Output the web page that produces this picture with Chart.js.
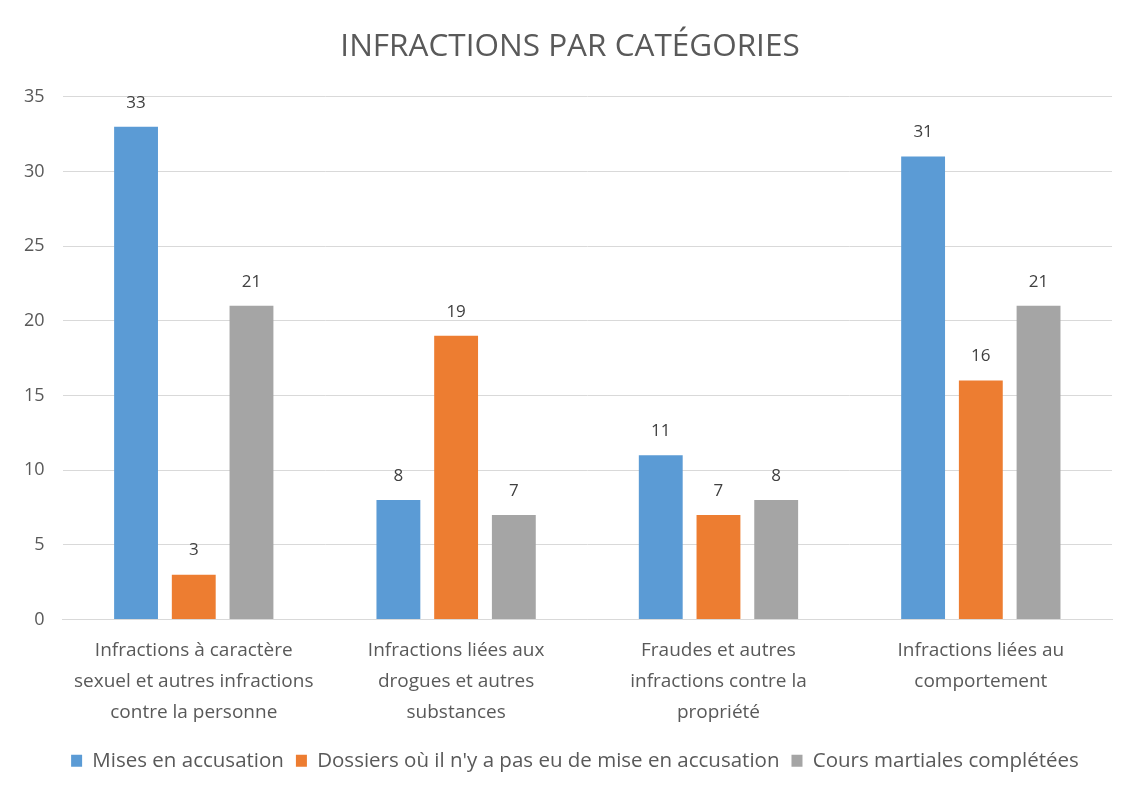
<!DOCTYPE html>
<html><head><meta charset="utf-8">
<script src="https://cdn.jsdelivr.net/npm/chart.js@4"></script>
<style>html,body{margin:0;padding:0;background:#fff}#wrap{width:1140px;height:800px}</style>
</head><body><div id="wrap"><canvas id="c"></canvas></div>
<script>
const categories = [
  ["Infractions à caractère", "sexuel et autres infractions", "contre la personne"],
  ["Infractions liées aux", "drogues et autres", "substances"],
  ["Fraudes et autres", "infractions contre la", "propriété"],
  ["Infractions liées au", "comportement"]
];
const seriesNames = ["Mises en accusation", "Dossiers où il n'y a pas eu de mise en accusation", "Cours martiales complétées"];
const misesEnAccusation = [33, 8, 11, 31];
const sansAccusation = [3, 19, 7, 16];
const coursMartiales = [21, 7, 8, 21];
const colors = ["#5b9bd5", "#ed7d31", "#a5a5a5"];
const FONT = "'Open Sans', 'Noto Sans', sans-serif";

const valueLabels = {
  id: 'valueLabels',
  afterDatasetsDraw(chart) {
    const ctx = chart.ctx;
    ctx.save();
    ctx.font = "17px " + FONT;
    ctx.fillStyle = "#404040";
    ctx.textAlign = "center";
    ctx.textBaseline = "middle";
    chart.data.datasets.forEach((ds, i) => {
      chart.getDatasetMeta(i).data.forEach((bar, j) => {
        ctx.fillText(ds.data[j], bar.x, bar.y - 24);
      });
    });
    ctx.restore();
  }
};

const blockShift = {
  id: 'blockShift',
  afterLayout(chart) {
    if (chart.legend) { chart.legend.left += 16; chart.legend.right += 16; }
    if (chart.titleBlock) { chart.titleBlock.left += 11; chart.titleBlock.right += 11; }
  }
};

new Chart(document.getElementById('c'), {
  type: 'bar',
  data: {
    labels: categories,
    datasets: [
      { label: seriesNames[0], data: misesEnAccusation, backgroundColor: colors[0] },
      { label: seriesNames[1], data: sansAccusation, backgroundColor: colors[1] },
      { label: seriesNames[2], data: coursMartiales, backgroundColor: colors[2] }
    ]
  },
  options: {
    responsive: true,
    maintainAspectRatio: false,
    animation: false,
    layout: { padding: { left: 6, right: 28, top: 10, bottom: 19 } },
    datasets: { bar: { categoryPercentage: 0.66, barPercentage: 0.76 } },
    plugins: {
      title: {
        display: true, text: "INFRACTIONS PAR CATÉGORIES",
        color: "#595959", font: { family: FONT, size: 31.5, weight: 'normal' },
        padding: { top: 18, bottom: 31 }
      },
      legend: {
        position: 'bottom',
        labels: { color: "#595959", font: { family: FONT, size: 20.5 }, boxWidth: 11, boxHeight: 12, padding: 12 }
      },
      tooltip: { enabled: false }
    },
    scales: {
      x: {
        grid: { display: false, drawTicks: false },
        border: { color: "#d9d9d9" },
        ticks: { color: "#595959", font: { family: FONT, size: 19, lineHeight: 1.65 }, padding: 15, maxRotation: 0 },
        afterFit(scale) { scale.height -= 5; }
      },
      y: {
        min: 0, max: 35,
        grid: { color: "#d9d9d9", drawTicks: false },
        border: { display: false },
        ticks: { stepSize: 5, color: "#595959", font: { family: FONT, size: 18 }, padding: 18 }
      }
    }
  },
  plugins: [valueLabels, blockShift]
});
</script></body></html>
